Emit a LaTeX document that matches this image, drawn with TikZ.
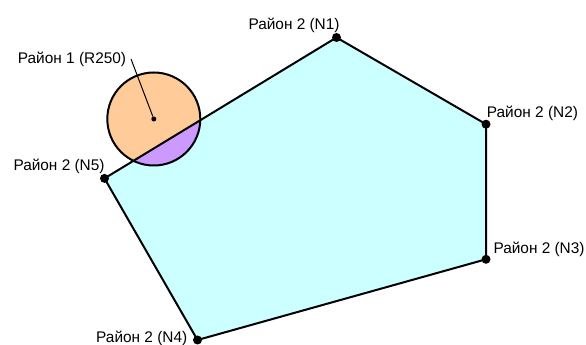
\documentclass[tikz,border=0pt]{standalone}
\usepackage{fontspec}
\setmainfont{Liberation Sans}
\definecolor{areacyan}{HTML}{CCFFFF}
\definecolor{areaorange}{HTML}{FFCC99}
\definecolor{areapurple}{HTML}{CC99FF}
\begin{document}
\begin{tikzpicture}[x=1pt,y=1pt,
  vertexdot/.style={circle,fill=black,inner sep=0pt,minimum size=9pt},
  centerdot/.style={circle,fill=black,inner sep=0pt,minimum size=5pt},
  lbl/.style={inner sep=0pt,anchor=base west,font=\fontsize{15.4}{18}\selectfont},
  edge/.style={line width=2pt,line join=round},
  leader/.style={line width=1pt}]
\useasboundingbox (0,0) rectangle (586,345);
\coordinate (N1) at (336.5,307.5);
\coordinate (N2) at (486,220.8);
\coordinate (N3) at (486,85.7);
\coordinate (N4) at (197.5,5);
\coordinate (N5) at (104.5,166.6);
\coordinate (C) at (153.8,226);
% fills
\fill[areacyan] (N1) -- (N2) -- (N3) -- (N4) -- (N5) -- cycle;
\fill[areaorange] (C) circle[radius=46.5];
\begin{scope}
  \clip (N1) -- (N2) -- (N3) -- (N4) -- (N5) -- cycle;
  \fill[areapurple] (C) circle[radius=46.5];
\end{scope}
% outlines
\draw[edge] (C) circle[radius=46.5];
\draw[edge] (N1) -- (N2) -- (N3) -- (N4) -- (N5) -- cycle;
% dots
\node[vertexdot] (d1) at (N1) {};
\node[vertexdot] (d2) at (N2) {};
\node[vertexdot] (d3) at (N3) {};
\node[vertexdot] (d4) at (N4) {};
\node[vertexdot] (d5) at (N5) {};
\node[centerdot] (dc) at (C) {};
% labels
\node[lbl] (l1) at (248.3,315) {Район 2 (N1)};
\node[lbl] (l2) at (486.7,227.5) {Район 2 (N2)};
\node[lbl] (l3) at (493.3,91.7) {Район 2 (N3)};
\node[lbl] (l4) at (96,2.7) {Район 2 (N4)};
\node[lbl] (l5) at (13.3,174) {Район 2 (N5)};
\node[lbl] (lr) at (17.7,281.7) {Район 1 (R250)};
\coordinate (Lend) at (131,286);
\draw[leader] (Lend) -- (dc);
\end{tikzpicture}
\end{document}
